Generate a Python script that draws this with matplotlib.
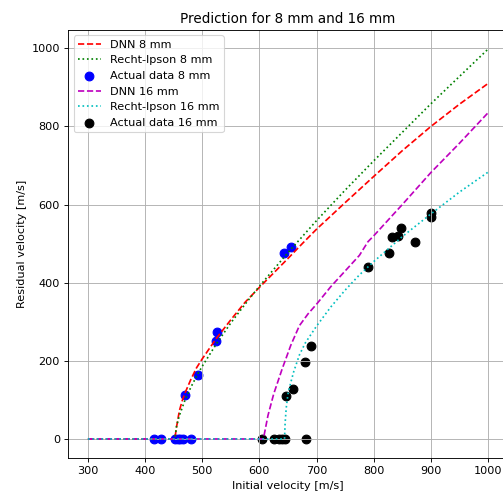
import matplotlib
matplotlib.use("Agg")
import matplotlib.pyplot as plt

# 8 mm plate
vi_dnn8 = [300, 350, 400, 450, 452, 455, 460, 465, 470, 480, 490, 500, 525, 550,
           575, 600, 625, 650, 675, 700, 750, 800, 850, 900, 950, 1000]
vr_dnn8 = [0, 0, 0, 0, 0, 30, 72, 98, 118, 152, 182, 205, 258, 305,
           350, 388, 425, 462, 500, 537, 605, 672, 738, 800, 857, 910]

vi_ri8 = [300, 350, 400, 450, 452, 455, 460, 470, 480, 492, 500, 525, 550,
          575, 600, 650, 700, 750, 800, 850, 900, 950, 1000]
vr_ri8 = [0, 0, 0, 0, 0, 32, 60, 100, 132, 166, 186, 244, 297,
          345, 391, 477, 559, 637, 712, 785, 858, 928, 998]

vi_exp8 = [415, 428, 452, 457, 461, 466, 480, 470, 492, 524, 526, 643, 655]
vr_exp8 = [0, 0, 0, 0, 0, 0, 0, 113, 164, 251, 274, 477, 492]

# 16 mm plate
vi_dnn16 = [300, 350, 400, 450, 500, 550, 600, 607, 615, 625, 640, 655, 670, 685,
            700, 725, 750, 775, 790, 800, 850, 900, 950, 1000]
vr_dnn16 = [0, 0, 0, 0, 0, 0, 0, 0, 60, 115, 180, 240, 290, 320,
            345, 390, 430, 470, 505, 520, 600, 682, 757, 835]

vi_ri16 = [300, 350, 400, 450, 500, 550, 600, 644, 645, 647, 650, 655, 660, 670, 680,
           700, 725, 750, 775, 800, 850, 900, 950, 1000]
vr_ri16 = [0, 0, 0, 0, 0, 0, 0, 0, 40, 80, 115, 145, 172, 215, 245,
           289, 338, 381, 420, 454, 518, 576, 632, 683]

vi_exp16 = [604, 625, 634, 639, 644, 681, 646, 658, 679, 690, 790, 826, 832,
            842, 847, 872, 900, 901]
vr_exp16 = [0, 0, 0, 0, 0, 0, 110, 128, 197, 238, 441, 477, 518,
            520, 541, 503, 579, 567]

dpi = 81
fig = plt.figure(figsize=(503 / dpi, 494 / dpi), dpi=dpi)
ax = fig.add_axes([0.135, 0.072, 0.875, 0.868])

ax.plot(vi_dnn8, vr_dnn8, 'r--', label="DNN 8 mm")
ax.plot(vi_ri8, vr_ri8, 'g:', label="Recht-Ipson 8 mm")
ax.scatter(vi_exp8, vr_exp8, c='b', s=60, label="Actual data 8 mm")
ax.plot(vi_dnn16, vr_dnn16, 'm--', label="DNN 16 mm")
ax.plot(vi_ri16, vr_ri16, 'c:', label="Recht-Ipson 16 mm")
ax.scatter(vi_exp16, vr_exp16, c='k', s=60, label="Actual data 16 mm")

ax.set_xlabel("Initial velocity [m/s]")
ax.set_ylabel("Residual velocity [m/s]")
ax.set_title("Prediction for 8 mm and 16 mm")
ax.grid()
ax.legend(loc="upper left")

fig.savefig("out.png", dpi=dpi)
